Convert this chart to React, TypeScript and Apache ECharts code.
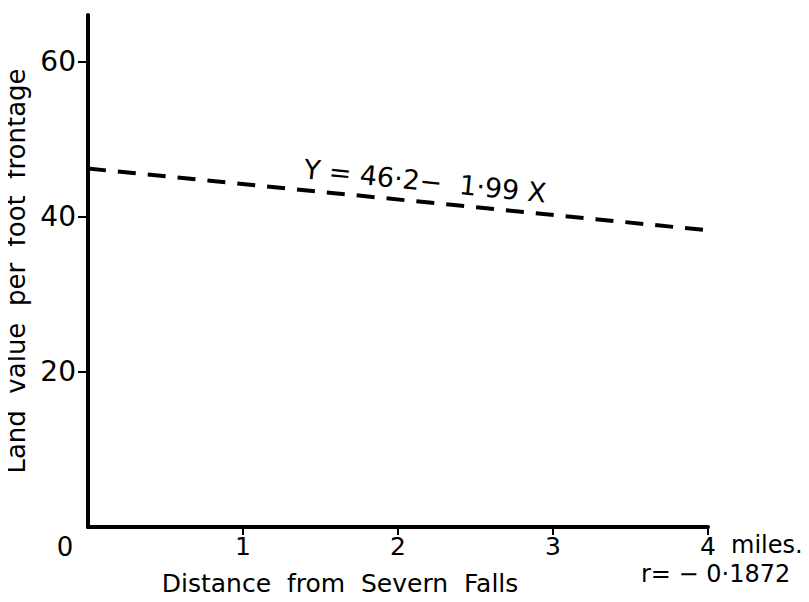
import React, { useEffect, useRef } from "react";
import * as echarts from "echarts";

// Regression line of land value against distance, Y = 46.2 − 1.99 X
const distanceMiles = [0, 4];
const landValue = [46.2, 38.24];

const yTickValues = [20, 40, 60];
const xTickValues = [1, 2, 3, 4];
const xLabelValues = [0, 1, 2, 3, 4];

const yAxisTitle = "Land  value  per  foot  frontage";
const xAxisTitle = "Distance  from  Severn  Falls";
const unitText = "miles.";
const equationText = "Y = 46·2−  1·99 X";
const correlationText = "r= − 0·1872";

const FONT = "DejaVu Sans";

export default function App() {
  const ref = useRef<HTMLDivElement>(null);

  useEffect(() => {
    if (!ref.current) return;
    const chart = echarts.init(ref.current, null, { renderer: "svg" });
    chart.setOption({
      animation: false,
      backgroundColor: "#ffffff",
      textStyle: { fontFamily: FONT, color: "#000" },
      grid: {
        left: 88,
        right: 101,
        top: 15,
        bottom: 75,
        containLabel: false,
        outerBoundsMode: "none",
      },
      xAxis: {
        type: "value",
        min: 0,
        max: 4,
        interval: 1,
        splitLine: { show: false },
        axisLine: { show: true, lineStyle: { color: "#000", width: 4 } },
        axisTick: {
          show: true,
          length: 8,
          customValues: xTickValues,
          lineStyle: { color: "#000", width: 2 },
        },
        axisLabel: {
          customValues: xLabelValues,
          margin: 7,
          fontSize: 25,
          fontFamily: FONT,
          color: "#000",
          formatter: (v: number) => (v === 0 ? "{z|0}" : String(v)),
          rich: {
            z: { fontSize: 26, fontFamily: FONT, color: "#000", padding: [0, 46, 6, 0] },
          },
        },
        name: xAxisTitle,
        nameLocation: "middle",
        nameGap: 44,
        nameTextStyle: {
          fontSize: 25,
          fontFamily: FONT,
          color: "#000",
          padding: [0, 116, 0, 0],
        },
      },
      yAxis: {
        type: "value",
        min: 0,
        max: 66,
        interval: 20,
        splitLine: { show: false },
        axisLine: { show: true, lineStyle: { color: "#000", width: 4 } },
        axisTick: {
          show: true,
          length: 10,
          customValues: yTickValues,
          lineStyle: { color: "#000", width: 2 },
        },
        axisLabel: {
          customValues: yTickValues,
          margin: 12,
          fontSize: 28,
          fontFamily: FONT,
          color: "#000",
        },
        name: yAxisTitle,
        nameLocation: "middle",
        nameRotate: 90,
        nameGap: 52,
        nameTextStyle: { fontSize: 26, fontFamily: FONT, color: "#000" },
      },
      graphic: [
        {
          type: "text",
          left: 731,
          top: 533,
          style: { text: unitText, font: `24px "${FONT}"`, fill: "#000" },
        },
        {
          type: "text",
          left: 641,
          top: 562,
          style: { text: correlationText, font: `24px "${FONT}"`, fill: "#000" },
        },
        {
          type: "text",
          x: 425,
          y: 181,
          rotation: -0.1,
          style: {
            text: equationText,
            font: `27px "${FONT}"`,
            fill: "#000",
            align: "center",
            verticalAlign: "middle",
          },
        },
      ],
      series: [
        {
          type: "line",
          data: distanceMiles.map((x, i) => [x, landValue[i]]),
          showSymbol: false,
          symbol: "none",
          lineStyle: { color: "#000", width: 4, type: [18, 12], cap: "butt" },
        },
      ],
    });
    return () => chart.dispose();
  }, []);

  return <div ref={ref} style={{ width: 809, height: 602, margin: -8 }} />;
}
